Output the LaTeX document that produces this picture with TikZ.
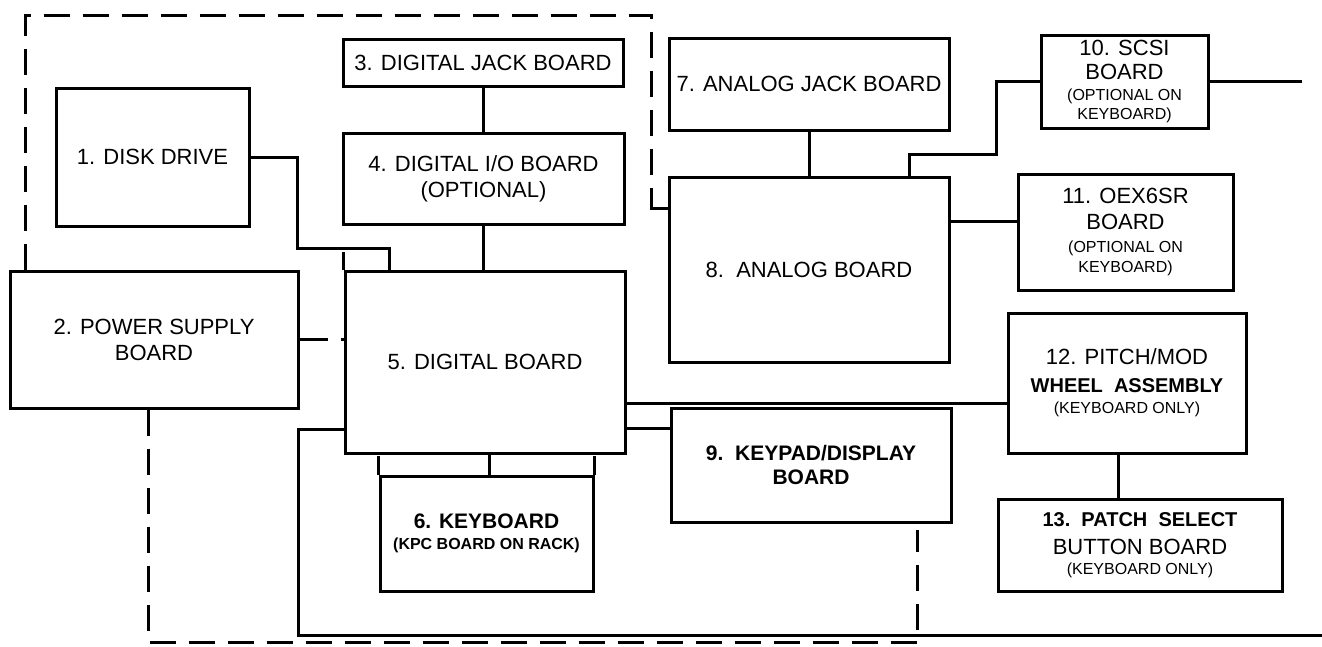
\documentclass[tikz,border=0pt]{standalone}
\usepackage{fontspec}
\setmainfont{Liberation Sans}
\newcommand{\smallnote}[1]{{\fontsize{16}{19}\selectfont #1}}

\begin{document}
\begin{tikzpicture}[x=1pt, y=-1pt,
    every node/.style={font=\fontsize{22}{26}\selectfont},
    board/.style={draw, line width=3pt, inner sep=0pt, align=center},
    wire/.style={line width=3pt},
    enclose/.style={line width=3pt, dash pattern=on 26pt off 13pt}]
  \useasboundingbox (0,0) rectangle (1322,646);
  \node[board, minimum width=193pt, minimum height=138pt] (disk) at (152.5,157) {1. DISK DRIVE};
  \node[board, minimum width=288pt, minimum height=137pt] (power) at (154,339.5) {2. POWER SUPPLY\\BOARD};
  \node[board, minimum width=280pt, minimum height=47pt] (djack) at (483,62.5) {3. DIGITAL JACK BOARD};
  \node[board, minimum width=281pt, minimum height=91pt] (dio) at (483.5,178.5) {4. DIGITAL I/O BOARD\\(OPTIONAL)};
  \node[board, minimum width=280pt, minimum height=182pt] (digital) at (485,362) {5. DIGITAL BOARD};
  \node[board, minimum width=213pt, minimum height=115pt] (kbd) at (486.5,533.5) {\textbf{\fontsize{21}{26}\selectfont 6. KEYBOARD}\\[-5pt]\smallnote{\textbf{(KPC BOARD ON RACK)}}};
  \node[board, minimum width=280pt, minimum height=92pt] (ajack) at (809,84) {7. ANALOG JACK BOARD};
  \node[board, minimum width=280pt, minimum height=185pt] (analog) at (809,269.5) {8.\ \ ANALOG BOARD};
  \node[board, minimum width=280pt, minimum height=114pt] (keypad) at (811,465) {\textbf{\fontsize{21}{26}\selectfont 9.\ \ KEYPAD/DISPLAY}\\[-2pt]\textbf{\fontsize{21}{26}\selectfont BOARD}};
  \node[board, minimum width=167pt, minimum height=93pt] (scsi) at (1124.5,81.5) {10. SCSI\\[-2pt]BOARD\\[-5pt]\smallnote{(OPTIONAL ON}\\[-7pt]\smallnote{KEYBOARD)}};
  \node[board, minimum width=215pt, minimum height=116pt] (oex) at (1125.5,232) {11. OEX6SR\\BOARD\\[-3pt]\smallnote{(OPTIONAL ON}\\[-6pt]\smallnote{KEYBOARD)}};
  \node[board, minimum width=238pt, minimum height=140pt] (pitch) at (1127,383) {12. PITCH/MOD\\[2pt]\textbf{\fontsize{20}{26}\selectfont WHEEL\ \ ASSEMBLY}\\[-5pt]\smallnote{(KEYBOARD ONLY)}};
  \node[board, minimum width=284pt, minimum height=92pt] (patch) at (1140,545) {\textbf{\fontsize{20}{26}\selectfont 13.\ \ PATCH\ \ SELECT}\\[2pt]BUTTON\ BOARD\\[-6pt]\smallnote{(KEYBOARD ONLY)}};
  \coordinate (scsiout) at (1302,81.5);
  \coordinate (tail) at (1322,635);

  \draw[wire] (djack.south) -- (djack.south |- dio.north);
  \draw[wire] (dio.south) -- (dio.south |- digital.north);
  \draw[wire] (disk.east) -| (297,248) -| ([xshift=46pt]digital.north west);
  \draw[wire] (digital.north west) -- ++(0,-18);
  \draw[wire, dash pattern=on 28pt off 13pt] (power.east) -- (power.east -| digital.west);
  \draw[wire] (digital.west |- 0,429) -| (298,635) -- (tail);
  \draw[wire] (digital.south -| 489,0) -- (kbd.north -| 489,0);
  \draw[wire] (kbd.north west) -- ++(0,-19);
  \draw[wire] (kbd.north east) -- ++(0,-19);
  \draw[wire] (ajack.south) -- (ajack.south |- analog.north);
  \draw[wire] ([xshift=-41pt]analog.north east) |- (996,154) |- (scsi.west);
  \draw[wire] (scsi.east) -- (scsiout);
  \draw[wire] (analog.east |- 0,221) -- (oex.west |- 0,221);
  \draw[wire] (digital.east |- 0,403) -- (pitch.west |- 0,403);
  \draw[wire] (digital.east |- 0,428) -- (keypad.west |- 0,428);
  \draw[wire] (pitch.south -| 1118,0) -- (patch.north -| 1118,0);

  \draw[enclose] (power.north -| 25,0) |- (651,15) -- (651,190);
  \draw[wire] (651,190) |- (analog.west |- 0,208);
  \draw[enclose] (power.south -| 148,0) |- (917,642) -- (917,530);
\end{tikzpicture}
\end{document}
